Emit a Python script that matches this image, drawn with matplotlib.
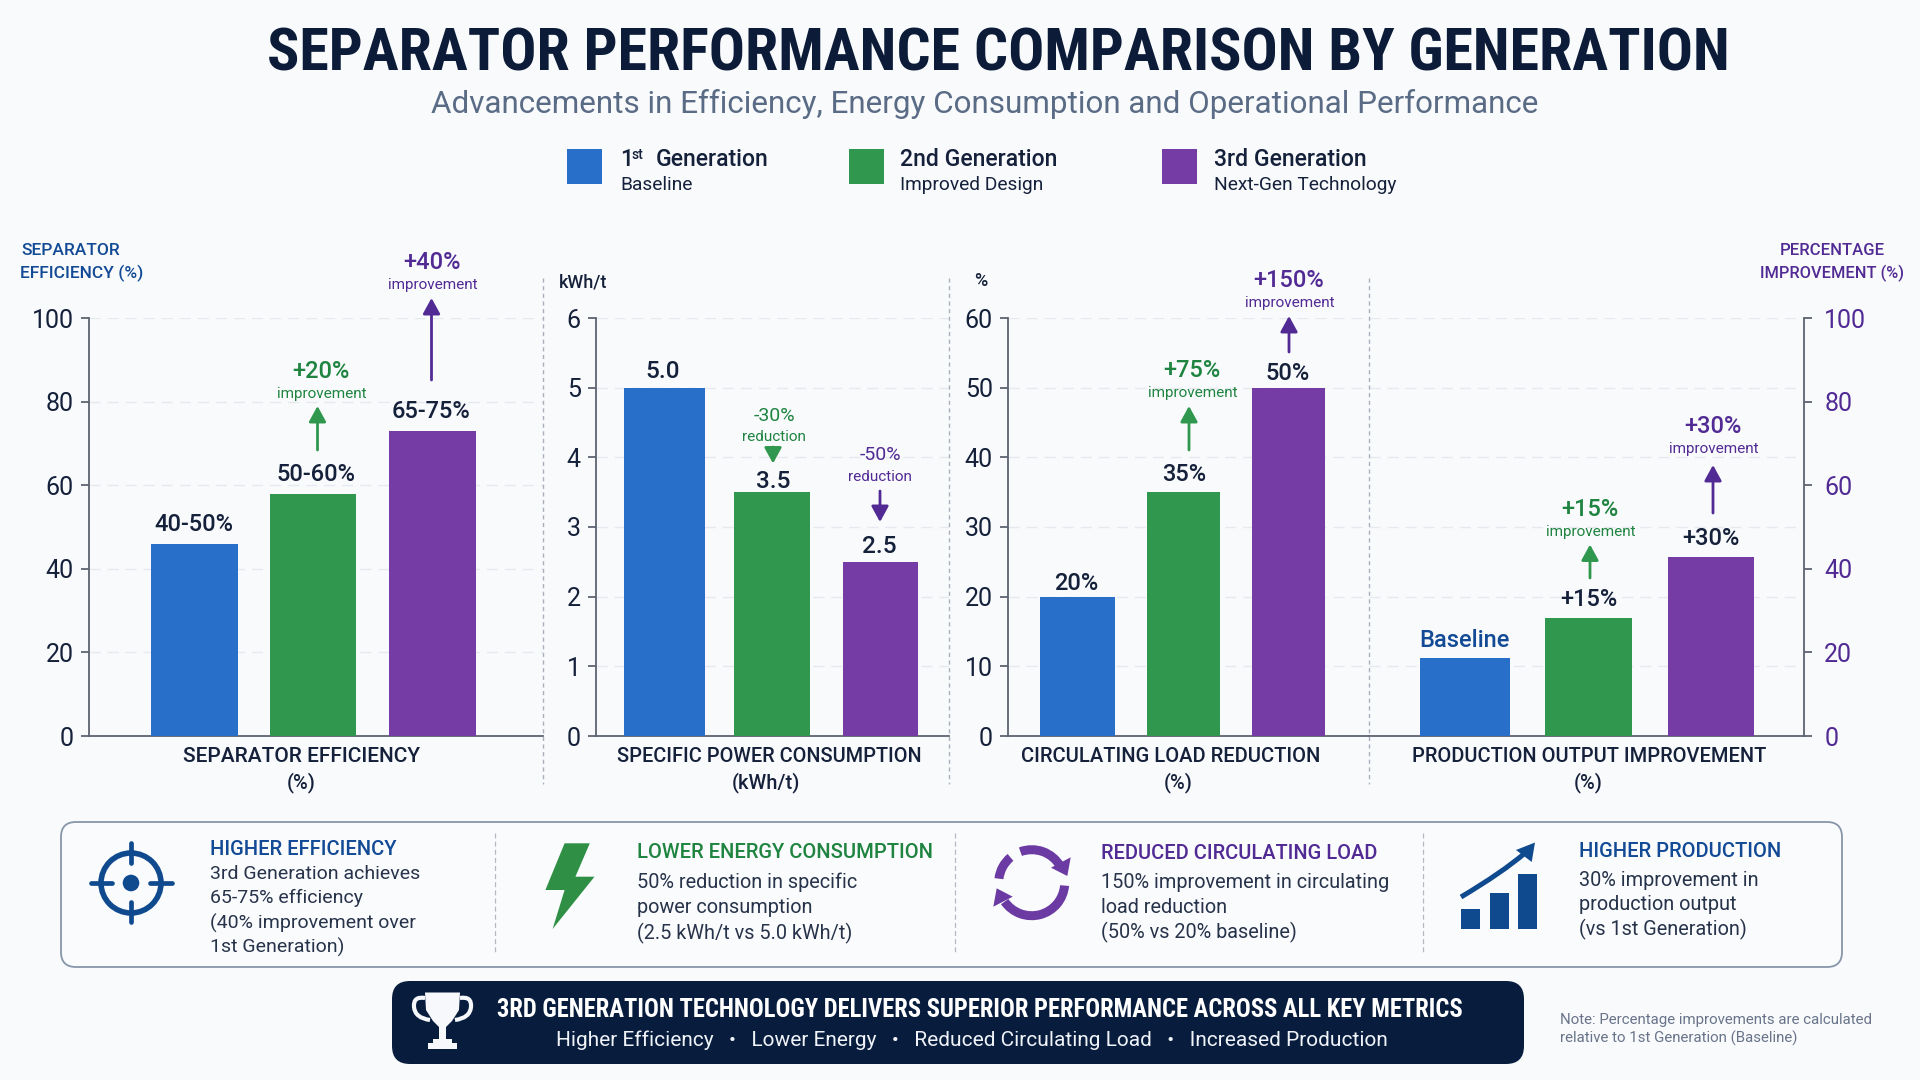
import matplotlib
matplotlib.use('Agg')
import matplotlib.pyplot as plt
from matplotlib.patches import Circle, FancyBboxPatch, PathPatch, Polygon, Rectangle, Wedge
from matplotlib.path import Path

W, H = 1920, 1080

# values
EFFICIENCY = [46, 58, 73]
POWER = [5.0, 3.5, 2.5]
CIRCULATING = [20, 35, 50]
PRODUCTION = [18.6, 28.2, 42.9]

EFFICIENCY_LABELS = ['40-50%', '50-60%', '65-75%']
POWER_LABELS = ['5.0', '3.5', '2.5']
CIRCULATING_LABELS = ['20%', '35%', '50%']
PRODUCTION_LABELS = ['Baseline', '+15%', '+30%']

PERCENT_TICKS = [0, 20, 40, 60, 80, 100]
POWER_TICKS = [0, 1, 2, 3, 4, 5, 6]
LOAD_TICKS = [0, 10, 20, 30, 40, 50, 60]
PRODUCTION_GRID = [100 / 6, 200 / 6, 50, 400 / 6, 500 / 6, 100]

BG = '#F8FAFC'
NAVY = '#0B1B38'
INK = '#15203A'
BLUE = '#276FC9'
GREEN = '#30984E'
PURPLE = '#753CA6'
BLUE_TXT = '#124A96'
GREEN_TXT = '#1F8440'
PURPLE_TXT = '#512A94'
BAR_COLORS = [BLUE, GREEN, PURPLE]
CONDENSED = ['Roboto Condensed', 'Roboto']

plt.rcParams['font.family'] = ['Roboto', 'DejaVu Sans']
plt.rcParams['axes.linewidth'] = 1.3

fig = plt.figure(figsize=(W / 100, H / 100), dpi=100, facecolor=BG)

# full-figure layer in pixel units, for text and furniture
over = fig.add_axes([0, 0, 1, 1], zorder=5)
over.set_xlim(0, W)
over.set_ylim(H, 0)
over.axis('off')


def label(x, y, s, size, color=INK, weight='normal', ha='center', family=None):
    t = over.text(x, y + size * 0.09, s, fontsize=size, color=color, fontweight=weight, ha=ha, va='center')
    if family:
        t.set_fontfamily(family)


def up_arrow(x, y0, y1, color):
    over.annotate('', xy=(x, y1), xytext=(x, y0),
                  arrowprops=dict(arrowstyle='-|>,head_length=9.5,head_width=5.2', mutation_scale=1,
                                  shrinkA=0, shrinkB=0, lw=2, color=color))


def note(x, y, big, small, color):
    label(x, y, big, 17, color, 'medium')
    label(x + 1, y + 23, small, 11, color)


def panel(x0, x1, centre, step, values, widths, top, ticks):
    ax = fig.add_axes([x0 / W, 1 - 736 / H, (x1 - x0) / W, 418 / H], facecolor='none')
    ax.bar(range(3), values, width=[w / step for w in widths], color=BAR_COLORS, zorder=3)
    ax.set_xlim((x0 - centre) / step, (x1 - centre) / step)
    ax.set_ylim(0, top)
    ax.set_xticks([])
    ax.set_yticks(ticks)
    ax.spines['top'].set_visible(False)
    ax.spines['right'].set_visible(False)
    ax.spines['left'].set_color('#5C6470')
    ax.spines['bottom'].set_color('#5C6470')
    ax.tick_params(axis='y', length=5.5, width=1.3, color='#5C6470', labelsize=18, labelcolor=INK, pad=5.5)
    ax.grid(axis='y', color='#E6EAEF', lw=1, ls=(0, (8, 5)), zorder=0)
    return ax


panel(89, 543, 194, 119, EFFICIENCY, [87, 86, 87], 100, PERCENT_TICKS)
panel(596, 949, 664, 108, POWER, [81, 76, 75], 6, POWER_TICKS)
panel(1008, 1369, 1077.5, 105.7, CIRCULATING, [75, 73, 73], 60, LOAD_TICKS)

ax4 = panel(1369, 1804, 1465, 123, PRODUCTION, [90, 87, 86], 100, PRODUCTION_GRID)

# percentage scale on the far right
right = ax4.twinx()
right.set_ylim(0, 100)
right.set_yticks(PERCENT_TICKS)
right.tick_params(axis='y', length=5.5, width=1.3, color='#5C6470', labelsize=18,
                  labelcolor=PURPLE_TXT, pad=9)
for side in ['top', 'left', 'bottom']:
    right.spines[side].set_visible(False)
right.spines['right'].set_color('#5C6470')

# twinx puts the left ticks back, so switch them off here
ax4.tick_params(axis='y', left=False, labelleft=False)
ax4.spines['left'].set_visible(False)

# panel separators
for x in [543, 949, 1369]:
    over.plot([x, x], [278, 784], color='#A9B0BB', lw=1, ls=(0, (3, 2.5)))

# header
label(998, 51, 'SEPARATOR PERFORMANCE COMPARISON BY GENERATION', 43.2, NAVY, 'bold', family=CONDENSED)
label(985, 102, 'Advancements in Efficiency, Energy Consumption and Operational Performance', 22.6, '#5A6B85')

# legend
for x, c in zip([567, 849, 1162], BAR_COLORS):
    over.add_patch(Rectangle((x, 149), 35, 35, color=c, lw=0))
label(620, 158, '1', 16.6, INK, 'medium', 'left')
label(632, 154, 'st', 10, INK, 'medium', 'left')
label(656, 158, 'Generation', 16.6, INK, 'medium', 'left')
label(620, 184, 'Baseline', 13.8, INK, 'normal', 'left')
label(900, 158, '2nd Generation', 16.6, INK, 'medium', 'left')
label(900, 184, 'Improved Design', 13.8, INK, 'normal', 'left')
label(1214, 158, '3rd Generation', 16.6, INK, 'medium', 'left')
label(1214, 184, 'Next-Gen Technology', 13.8, INK, 'normal', 'left')

# axis captions
label(21, 249, 'SEPARATOR', 12.5, BLUE_TXT, 'medium', 'left')
label(20, 272, 'EFFICIENCY (%)', 12.5, BLUE_TXT, 'medium', 'left')
label(1832, 249, 'PERCENTAGE', 12, PURPLE_TXT, 'medium')
label(1832, 272, 'IMPROVEMENT (%)', 11.8, PURPLE_TXT, 'medium')
label(583, 281, 'kWh/t', 13, INK, 'medium')
label(981, 280, '%', 13, INK, 'medium')

# values over the bars
for x, y, s in zip([194, 316, 431], [523, 473, 410], EFFICIENCY_LABELS):
    label(x, y, s, 17, INK, 'medium')
for x, y, s in zip([663, 773, 879], [370, 480, 545], POWER_LABELS):
    label(x, y, s, 17.5, INK, 'medium')
for x, y, s in zip([1076, 1184, 1288], [582, 473, 372], CIRCULATING_LABELS):
    label(x, y, s, 17, INK, 'medium')
label(1464, 639, PRODUCTION_LABELS[0], 17, BLUE_TXT, 'medium')
label(1589, 598, PRODUCTION_LABELS[1], 17, INK, 'medium')
label(1711, 537, PRODUCTION_LABELS[2], 17, INK, 'medium')

# change notes and arrows
note(321, 370, '+20%', 'improvement', GREEN_TXT)
up_arrow(317.5, 450, 406, GREEN)
note(432, 261, '+40%', 'improvement', PURPLE_TXT)
up_arrow(431.5, 380, 298, PURPLE_TXT)

label(774, 415, '-30%', 14, GREEN_TXT)
label(774, 436, 'reduction', 11, GREEN_TXT)
up_arrow(773, 447, 463.5, GREEN)
label(880, 454, '-50%', 14, PURPLE_TXT)
label(880, 476, 'reduction', 11, PURPLE_TXT)
up_arrow(880, 491, 522, PURPLE_TXT)

note(1192, 369, '+75%', 'improvement', GREEN_TXT)
up_arrow(1189, 450, 406, GREEN)
note(1289, 279, '+150%', 'improvement', PURPLE_TXT)
up_arrow(1289, 352, 316, PURPLE_TXT)

note(1590, 508, '+15%', 'improvement', GREEN_TXT)
up_arrow(1590, 578, 544.5, GREEN)
note(1713, 425, '+30%', 'improvement', PURPLE_TXT)
up_arrow(1713, 513, 465, PURPLE_TXT)

# category captions
for x, s, size in [(302, 'SEPARATOR EFFICIENCY', 15),
                   (769, 'SPECIFIC POWER CONSUMPTION', 14.3),
                   (1171, 'CIRCULATING LOAD REDUCTION', 14.5),
                   (1589, 'PRODUCTION OUTPUT IMPROVEMENT', 14.45)]:
    label(x, 755, s, size, INK, 'medium')
sub_x = [301, 766, 1178, 1588]
for x, s in zip(sub_x, ['(%)', '(kWh/t)', '(%)', '(%)']):
    label(x, 781, s, 14.5, INK, 'medium')

# summary box
over.add_patch(FancyBboxPatch((61, 822), 1781, 145, boxstyle='round,pad=0,rounding_size=15',
                              fc='#FAFBFD', ec='#8796A9', lw=1.3))
for x in [494.5, 955, 1423]:
    over.plot([x, x], [833, 954], color='#B4BAC4', lw=0.9, ls=(0, (4, 2.5)))

BODY = 14.3
label(210, 848, 'HIGHER EFFICIENCY', 14.5, BLUE_TXT, 'medium', 'left')
for y, s in zip([873, 897, 922, 946],
                ['3rd Generation achieves', '65-75% efficiency', '(40% improvement over', '1st Generation)']):
    label(210, y, s, 14, '#27334A', 'normal', 'left')
label(637, 851, 'LOWER ENERGY CONSUMPTION', 14.5, GREEN_TXT, 'medium', 'left')
for y, s in zip([881, 906, 932],
                ['50% reduction in specific', 'power consumption', '(2.5 kWh/t vs 5.0 kWh/t)']):
    label(637, y, s, BODY, '#27334A', 'normal', 'left')
label(1101, 852, 'REDUCED CIRCULATING LOAD', 14.4, PURPLE_TXT, 'medium', 'left')
for y, s in zip([881, 906, 931],
                ['150% improvement in circulating', 'load reduction', '(50% vs 20% baseline)']):
    label(1101, y, s, BODY, '#27334A', 'normal', 'left')
label(1579, 850, 'HIGHER PRODUCTION', 14.5, BLUE_TXT, 'medium', 'left')
for y, s in zip([879, 903, 928],
                ['30% improvement in', 'production output', '(vs 1st Generation)']):
    label(1579, y, s, BODY, '#27334A', 'normal', 'left')

# target icon
ICON_BLUE = '#0F4A8F'
over.add_patch(Circle((131, 883), 30, fc='none', ec=ICON_BLUE, lw=4))
over.add_patch(Circle((131, 883), 8.3, fc=ICON_BLUE, ec='none'))
for xs, ys in [([131, 131], [843, 863]), ([131, 131], [902, 922]),
               ([90.5, 112], [883, 883]), ([150, 171.5], [883, 883])]:
    over.plot(xs, ys, color=ICON_BLUE, lw=3.4, solid_capstyle='round')

# lightning icon
over.add_patch(Polygon([(564.6, 843.3), (589.8, 843.3), (575.4, 876.7), (594.5, 876.7),
                        (552.6, 929), (564.6, 890), (545.4, 890)], fc='#2E8F45', ec='none'))

# cycle icon
ICON_PURPLE = '#6B3BA3'
cx, cy = 1031.7, 882.7
for a0, a1 in [(30, 110), (130, 173), (-145, -5)]:
    over.add_patch(Wedge((cx, cy), 37.5, -a1, -a0, width=9, fc=ICON_PURPLE, ec='none'))
over.add_patch(Polygon([(1070.7, 857.3), (1067.3, 876), (1051, 867.7)], fc=ICON_PURPLE, ec='none'))
over.add_patch(Polygon([(996.7, 888.3), (993.3, 906.7), (1012.7, 896.7)], fc=ICON_PURPLE, ec='none'))

# growth icon
for x, y in [(1461, 909), (1490, 893), (1518, 874)]:
    over.add_patch(Rectangle((x, y), 19, 928.5 - y, fc=ICON_BLUE, ec='none'))
curve = Path([(1461, 897), (1503, 872), (1525, 853)], [Path.MOVETO, Path.CURVE3, Path.CURVE3])
over.add_patch(PathPatch(curve, fc='none', ec=ICON_BLUE, lw=3.6))
over.add_patch(Polygon([(1535, 842.5), (1516, 850), (1531.7, 862)], fc=ICON_BLUE, ec='none'))

# banner
over.add_patch(FancyBboxPatch((392, 981), 1132, 83, boxstyle='round,pad=0,rounding_size=18',
                              fc='#081D3E', ec='none'))
label(980, 1008, '3RD GENERATION TECHNOLOGY DELIVERS SUPERIOR PERFORMANCE ACROSS ALL KEY METRICS',
      17.7, 'white', 'bold', family=CONDENSED)
label(972, 1039, 'Higher Efficiency   \u2022   Lower Energy   \u2022   Reduced Circulating Load   \u2022   Increased Production',
      15, '#F0F3F8')

# trophy icon
WHITE = '#F6F8FB'
over.add_patch(Polygon([(425, 992.5), (460, 992.5), (459, 1010), (452, 1021), (446, 1027),
                        (446, 1040), (439, 1040), (439, 1027), (433, 1021), (426, 1010)], fc=WHITE, ec='none'))
over.add_patch(Rectangle((433, 1039), 19, 5, fc=WHITE, ec='none'))
over.add_patch(Rectangle((428, 1043), 29, 6, fc=WHITE, ec='none'))
left = Path([(425, 998), (413, 996), (414, 1007), (415, 1018), (430, 1020)],
            [Path.MOVETO, Path.CURVE3, Path.CURVE3, Path.CURVE3, Path.CURVE3])
over.add_patch(PathPatch(left, fc='none', ec=WHITE, lw=3))
handle = Path([(460, 998), (472, 996), (471, 1007), (470, 1018), (455, 1020)],
              [Path.MOVETO, Path.CURVE3, Path.CURVE3, Path.CURVE3, Path.CURVE3])
over.add_patch(PathPatch(handle, fc='none', ec=WHITE, lw=3))

# footnote
label(1560, 1019, 'Note: Percentage improvements are calculated', 10.85, '#69748A', 'normal', 'left')
label(1560, 1037.5, 'relative to 1st Generation (Baseline)', 10.85, '#69748A', 'normal', 'left')

fig.savefig('out.png', dpi=100, facecolor=BG)
